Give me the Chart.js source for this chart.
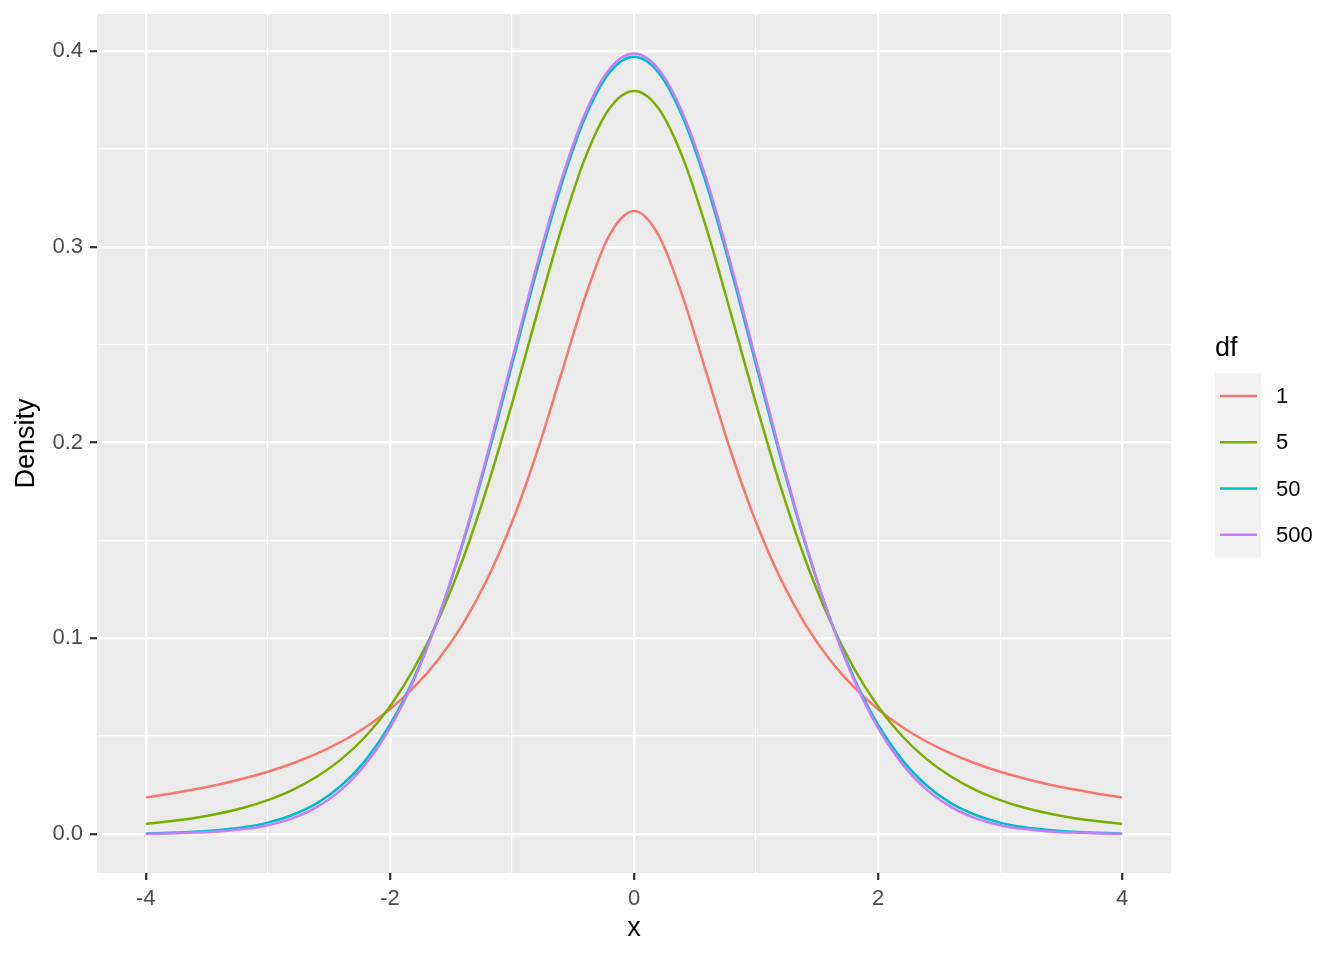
<!DOCTYPE html>
<html>
<head>
<meta charset="utf-8">
<title>t densities</title>
<script src="https://cdn.jsdelivr.net/npm/chart.js@4.4.1/dist/chart.umd.min.js"></script>
<style>
  html, body { margin: 0; padding: 0; background: #fff; }
  canvas { display: block; }
</style>
</head>
<body>
<canvas id="chart" width="1344" height="960"></canvas>
<script>
// ───── Student t densities for several df ─────────────────────────────────
// Values at x = -4 … 4, step 0.2.

const xs = [
  -4.0, -3.8, -3.6, -3.4, -3.2, -3.0, -2.8, -2.6, -2.4, -2.2, -2.0,
  -1.8, -1.6, -1.4, -1.2, -1.0, -0.8, -0.6, -0.4, -0.2, 0.0,
  0.2, 0.4, 0.6, 0.8, 1.0, 1.2, 1.4, 1.6, 1.8, 2.0,
  2.2, 2.4, 2.6, 2.8, 3.0, 3.2, 3.4, 3.6, 3.8, 4.0,
];

const dfLabels = ['1', '5', '50', '500'];
const dfColors = ['#F8766D', '#7CAE00', '#00BFC4', '#C77CFF'];

const dens1 = [
  0.0187, 0.0206, 0.0228, 0.0253, 0.0283, 0.0318, 0.0360, 0.0410, 0.0471, 0.0545, 0.0637,
  0.0751, 0.0894, 0.1075, 0.1305, 0.1592, 0.1941, 0.2341, 0.2744, 0.3061, 0.3183,
  0.3061, 0.2744, 0.2341, 0.1941, 0.1592, 0.1305, 0.1075, 0.0894, 0.0751, 0.0637,
  0.0545, 0.0471, 0.0410, 0.0360, 0.0318, 0.0283, 0.0253, 0.0228, 0.0206, 0.0187,
];
const dens5 = [
  0.0051, 0.0065, 0.0082, 0.0105, 0.0134, 0.0173, 0.0224, 0.0292, 0.0381, 0.0498, 0.0651,
  0.0848, 0.1098, 0.1407, 0.1777, 0.2197, 0.2645, 0.3081, 0.3454, 0.3707, 0.3796,
  0.3707, 0.3454, 0.3081, 0.2645, 0.2197, 0.1777, 0.1407, 0.1098, 0.0848, 0.0651,
  0.0498, 0.0381, 0.0292, 0.0224, 0.0173, 0.0134, 0.0105, 0.0082, 0.0065, 0.0051,
];
const dens50 = [
  0.0003, 0.0006, 0.0011, 0.0020, 0.0034, 0.0058, 0.0097, 0.0156, 0.0246, 0.0376, 0.0558,
  0.0801, 0.1111, 0.1489, 0.1925, 0.2396, 0.2870, 0.3306, 0.3660, 0.3890, 0.3970,
  0.3890, 0.3660, 0.3306, 0.2870, 0.2396, 0.1925, 0.1489, 0.1111, 0.0801, 0.0558,
  0.0376, 0.0246, 0.0156, 0.0097, 0.0058, 0.0034, 0.0020, 0.0011, 0.0006, 0.0003,
];
const dens500 = [
  0.0001, 0.0003, 0.0007, 0.0013, 0.0025, 0.0045, 0.0080, 0.0137, 0.0225, 0.0356, 0.0542,
  0.0791, 0.1110, 0.1498, 0.1942, 0.2420, 0.2896, 0.3331, 0.3681, 0.3908, 0.3987,
  0.3908, 0.3681, 0.3331, 0.2896, 0.2420, 0.1942, 0.1498, 0.1110, 0.0791, 0.0542,
  0.0356, 0.0225, 0.0137, 0.0080, 0.0045, 0.0025, 0.0013, 0.0007, 0.0003, 0.0001,
];

const xTicks = [-4, -3, -2, -1, 0, 1, 2, 3, 4];
const xMajor = [-4, -2, 0, 2, 4];
const yTicks = [0, 0.05, 0.1, 0.15, 0.2, 0.25, 0.3, 0.35, 0.4];
const yMajor = [0, 0.1, 0.2, 0.3, 0.4];

const FONT = "'Liberation Sans', Arial, sans-serif";

function _isMajor(list, v) {
  return list.some((m) => Math.abs(m - v) < 1e-9);
}

// grey panel behind the grid
const panelBg = {
  id: 'panelBg',
  beforeDraw(chart) {
    const { ctx, chartArea: a } = chart;
    ctx.save();
    ctx.fillStyle = '#EBEBEB';
    ctx.fillRect(a.left, a.top, a.right - a.left, a.bottom - a.top);
    ctx.restore();
  },
};

// ggplot-style legend on the right
const dfLegend = {
  id: 'dfLegend',
  afterDraw(chart) {
    const ctx = chart.ctx;
    ctx.save();
    ctx.fillStyle = '#000';
    ctx.font = `27px ${FONT}`;
    ctx.textBaseline = 'alphabetic';
    ctx.textAlign = 'left';
    ctx.fillText('df', 1215, 356);

    const keyTop = 373, keyH = 46.2;
    ctx.fillStyle = '#F2F2F2';
    ctx.fillRect(1215, keyTop, 46, keyH * dfLabels.length);

    dfLabels.forEach((lab, i) => {
      const cy = keyTop + keyH * i + keyH / 2;
      ctx.strokeStyle = dfColors[i];
      ctx.lineWidth = 2.5;
      ctx.beginPath();
      ctx.moveTo(1220, cy);
      ctx.lineTo(1257, cy);
      ctx.stroke();
      ctx.fillStyle = '#000';
      ctx.font = `22px ${FONT}`;
      ctx.textBaseline = 'middle';
      ctx.fillText(lab, 1276, cy + 1);
    });
    ctx.restore();
  },
};

const series = [dens1, dens5, dens50, dens500];
const datasets = series.map((vals, i) => ({
  label: dfLabels[i],
  data: vals.map((y, j) => ({ x: xs[j], y })),
  borderColor: dfColors[i],
  backgroundColor: dfColors[i],
  borderWidth: 2.5,
  pointRadius: 0,
  fill: false,
  cubicInterpolationMode: 'monotone',
  order: series.length - i, // later df drawn on top
}));

new Chart(document.getElementById('chart'), {
  type: 'line',
  data: { datasets },
  plugins: [panelBg, dfLegend],
  options: {
    responsive: false,
    devicePixelRatio: 1,
    animation: false,
    layout: { padding: { left: 0, top: 14, right: 173, bottom: 0 } },
    plugins: {
      legend: { display: false },
      tooltip: { enabled: false },
    },
    scales: {
      x: {
        type: 'linear',
        min: -4.4,
        max: 4.4,
        afterBuildTicks(scale) { scale.ticks = xTicks.map((v) => ({ value: v })); },
        afterFit(scale) {
          scale.height = 87;
          scale.paddingLeft = 0;
          scale.paddingRight = 0;
        },
        border: { display: false },
        grid: {
          color: '#FFFFFF',
          lineWidth: (c) => (_isMajor(xMajor, c.tick.value) ? 2.4 : 1.2),
          tickColor: (c) => (_isMajor(xMajor, c.tick.value) ? '#333333' : 'rgba(0,0,0,0)'),
          tickWidth: 2.2,
          tickLength: 7,
        },
        ticks: {
          autoSkip: false,
          maxRotation: 0,
          padding: 6,
          color: '#4D4D4D',
          font: { family: FONT, size: 22 },
          callback: (v) => (_isMajor(xMajor, v) ? String(v) : ''),
        },
        title: {
          display: true,
          text: 'x',
          color: '#000',
          font: { family: FONT, size: 27, lineHeight: 1.2 },
          padding: { top: 0, bottom: 15 },
        },
      },
      y: {
        type: 'linear',
        min: -0.01994,
        max: 0.41888,
        afterBuildTicks(scale) { scale.ticks = yTicks.map((v) => ({ value: v })); },
        afterFit(scale) {
          scale.width = 97;
          scale.paddingTop = 0;
          scale.paddingBottom = 0;
        },
        border: { display: false },
        grid: {
          color: '#FFFFFF',
          lineWidth: (c) => (_isMajor(yMajor, c.tick.value) ? 2.4 : 1.2),
          tickColor: (c) => (_isMajor(yMajor, c.tick.value) ? '#333333' : 'rgba(0,0,0,0)'),
          tickWidth: 2.2,
          tickLength: 7,
        },
        ticks: {
          autoSkip: false,
          padding: 7,
          color: '#4D4D4D',
          font: { family: FONT, size: 22 },
          callback: (v) => (_isMajor(yMajor, v) ? v.toFixed(1) : ''),
        },
        title: {
          display: true,
          text: 'Density',
          color: '#000',
          font: { family: FONT, size: 27, lineHeight: 1.2 },
          padding: { top: 10, bottom: 0 },
        },
      },
    },
  },
});
</script>
</body>
</html>
